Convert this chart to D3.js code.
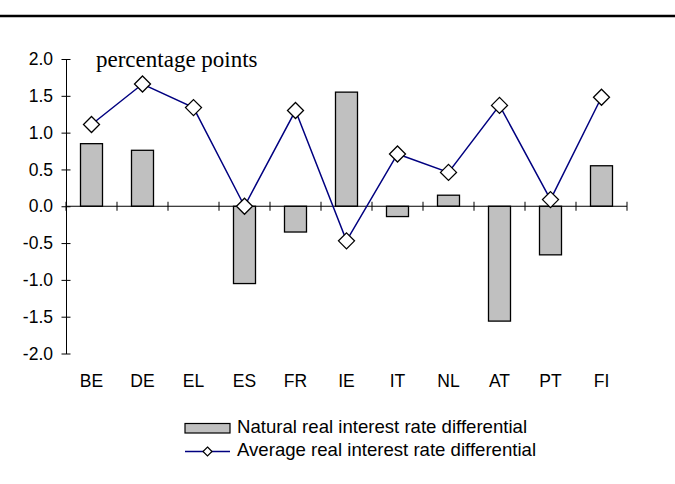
<!DOCTYPE html>
<html><head><meta charset="utf-8">
<script src="https://cdn.jsdelivr.net/npm/d3@7"></script>
<style>body{margin:0;background:#fff}svg{display:block}</style>
</head><body>
<script>
const categories = ["BE","DE","EL","ES","FR","IE","IT","NL","AT","PT","FI"];
const naturalDiff = [0.85, 0.76, 0.0, -1.05, -0.35, 1.55, -0.14, 0.15, -1.56, -0.66, 0.55];
const averageDiff = [1.11, 1.66, 1.34, 0.0, 1.30, -0.47, 0.71, 0.46, 1.37, 0.09, 1.48];
const yTicks = [-2.0, -1.5, -1.0, -0.5, 0.0, 0.5, 1.0, 1.5, 2.0];
const seriesNames = ["Natural real interest rate differential", "Average real interest rate differential"];

const W = 675, H = 484;
const svg = d3.select("body").append("svg").attr("width", W).attr("height", H);

// top rule
svg.append("line").attr("x1", 0).attr("x2", W).attr("y1", 16).attr("y2", 16)
  .attr("stroke", "#000").attr("stroke-width", 2.5);

const x = d3.scaleBand().domain(categories).range([66, 627]).paddingInner(0).paddingOuter(0);
const y = d3.scaleLinear().domain([-2, 2]).range([353.5, 59]);
const font = "Liberation Sans, Arial, sans-serif";
const cx = i => x(categories[i]) + x.bandwidth() / 2;

// bars
const bw = 22;
const barData = naturalDiff.map((v, i) => ({ v, i })).filter(d => d.v !== 0);
svg.append("g").selectAll("rect").data(barData).join("rect")
  .attr("x", d => cx(d.i) - bw / 2)
  .attr("y", d => y(Math.max(0, d.v)))
  .attr("width", bw)
  .attr("height", d => Math.abs(y(d.v) - y(0)))
  .attr("fill", "#c0c0c0").attr("stroke", "#000").attr("stroke-width", 1.3);

// y axis
const yAxis = d3.axisLeft(y).tickValues(yTicks).tickSize(0).tickPadding(13);
const yg = svg.append("g").attr("transform", "translate(66,0)").call(yAxis);
yg.select(".domain").attr("stroke", "#000").attr("stroke-width", 1);
yg.selectAll(".tick text").attr("font-family", font).attr("font-size", 17.5).attr("fill", "#000")
  .text(d => d3.format(".1f")(d).replace("−", "-"));
yg.selectAll(".tick").append("line").attr("x1", -4.5).attr("x2", 4.5).attr("stroke", "#000");

// x axis at zero
const xg = svg.append("g");
xg.append("line").attr("x1", 66).attr("x2", 627).attr("y1", y(0)).attr("y2", y(0)).attr("stroke", "#000");
const edges = categories.map(c => x(c)).concat([x.range()[1]]);
xg.selectAll("line.tk").data(edges).join("line").attr("class", "tk")
  .attr("x1", d => d).attr("x2", d => d).attr("y1", y(0) - 4.5).attr("y2", y(0) + 4.5)
  .attr("stroke", "#000");
xg.selectAll("text").data(categories).join("text")
  .attr("x", (d, i) => cx(i)).attr("y", 387)
  .attr("text-anchor", "middle").attr("font-family", font).attr("font-size", 17.5)
  .text(d => d);

// line
const line = d3.line().x((d, i) => cx(i)).y(d => y(d));
svg.append("path").datum(averageDiff).attr("d", line).attr("fill", "none")
  .attr("stroke", "#000080").attr("stroke-width", 1.5);
const diamond = s => `M0,${-s}L${s},0L0,${s}L${-s},0Z`;
svg.append("g").selectAll("path").data(averageDiff).join("path")
  .attr("transform", (d, i) => `translate(${cx(i)},${y(d)})`)
  .attr("d", diamond(8)).attr("fill", "#fff").attr("stroke", "#000").attr("stroke-width", 1.3);

// unit label
svg.append("text").attr("x", 96).attr("y", 67).attr("font-family", "Liberation Serif, Times New Roman, serif")
  .attr("font-size", 23).text("percentage points");

// legend
const lg = svg.append("g");
lg.append("rect").attr("x", 185).attr("y", 423.5).attr("width", 45).attr("height", 9.5)
  .attr("fill", "#c0c0c0").attr("stroke", "#000").attr("stroke-width", 1.2);
lg.append("text").attr("x", 237).attr("y", 433).attr("font-family", font).attr("font-size", 18.6).text(seriesNames[0]);
lg.append("line").attr("x1", 185).attr("x2", 230).attr("y1", 451.5).attr("y2", 451.5).attr("stroke", "#000080").attr("stroke-width", 1.3);
lg.append("path").attr("transform", "translate(207.5,451.5)").attr("d", diamond(4.5))
  .attr("fill", "#fff").attr("stroke", "#000").attr("stroke-width", 1.2);
lg.append("text").attr("x", 237).attr("y", 456).attr("font-family", font).attr("font-size", 18.6).text(seriesNames[1]);
</script>
</body></html>
